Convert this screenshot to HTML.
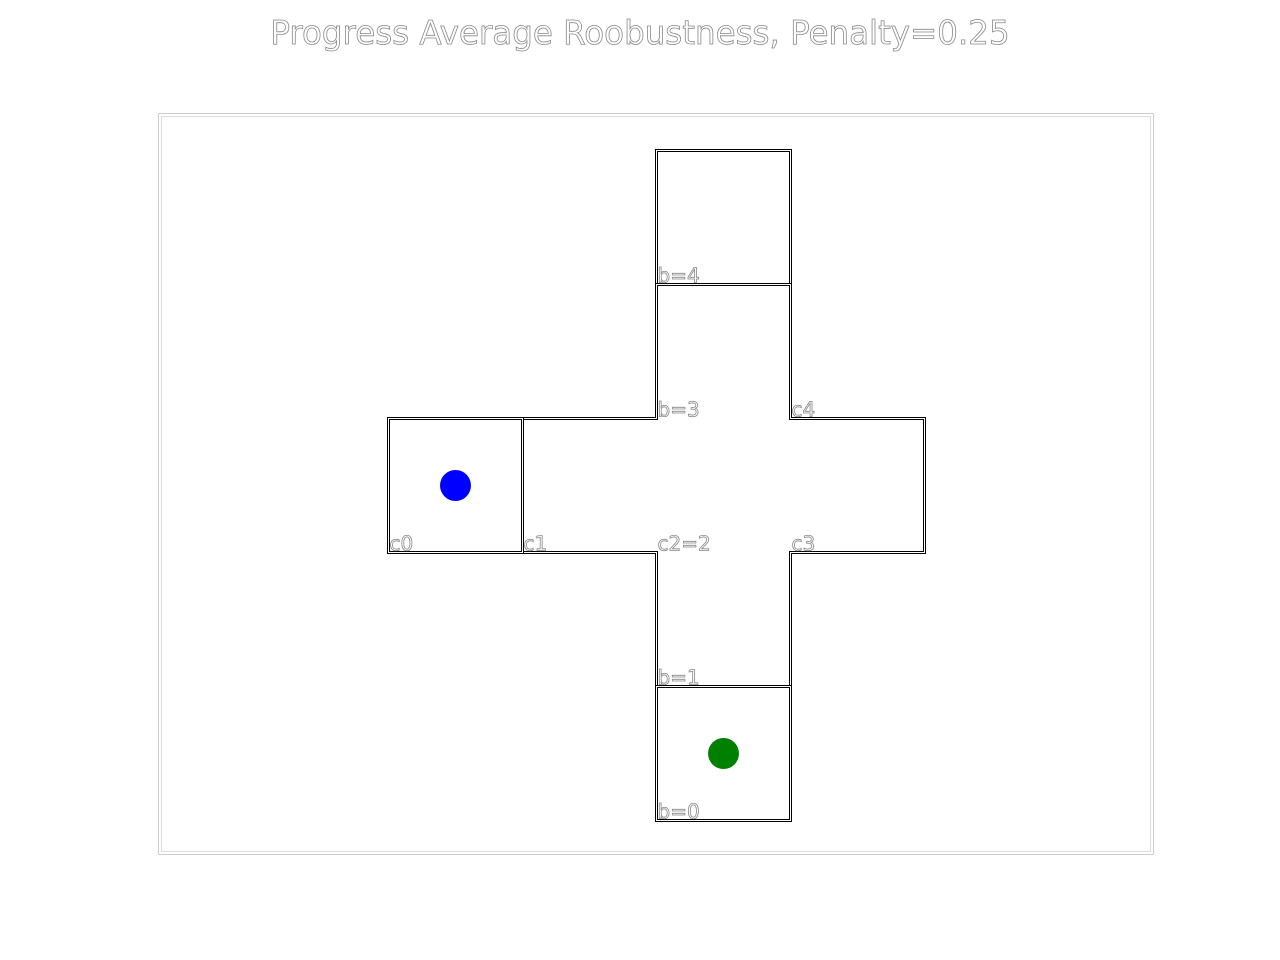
<!DOCTYPE html>
<html><head><meta charset="utf-8"><style>
html,body{margin:0;padding:0;background:#fff;}
svg{display:block;}
text{font-family:"DejaVu Sans","Liberation Sans",sans-serif;fill:#fff;stroke:#888;stroke-width:0.8;}
</style></head><body>
<svg id="chart" width="1280" height="960" viewBox="0 0 1280 960">
<text x="640" y="44" text-anchor="middle" font-size="32.5">Progress Average Roobustness, Penalty=0.25</text>
<rect x="158.5" y="113.5" width="995" height="741" fill="none" stroke="#ccc" stroke-width="1"/>
<rect x="161.5" y="116.5" width="989" height="735" fill="none" stroke="#ddd" stroke-width="1"/>
<g id="walls"></g>
<g id="labels"></g>
<g id="points"></g>
</svg>
<script>
// cell polygons in grid units (x to right, y upward)
const shapeNames = ['box-top','cross','box-left','box-bottom'];
const shapes = [
  [[2,4],[3,4],[3,5],[2,5]],
  [[2,1],[3,1],[3,2],[4,2],[4,3],[3,3],[3,4],[2,4],[2,3],[1,3],[1,2],[2,2]],
  [[0,2],[1,2],[1,3],[0,3]],
  [[2,0],[3,0],[3,1],[2,1]]
];
const labelTexts = ['b=0','b=1','c2=2','b=3','b=4','c0','c1','c3','c4'];
const labelX = [2,2,2,2,2,0,1,3,3];
const labelY = [0,1,2,3,4,2,2,2,3];
const pointNames = ['agent','goal'];
const pointX = [0.5,2.5];
const pointY = [2.5,0.5];
const pointColors = ['#0000ff','#008000'];

const unit = 134.0, x0 = 388.5, y0 = 820.5;
const sx = v => x0 + v*unit;
const sy = v => y0 - v*unit;
const NS = 'http://www.w3.org/2000/svg';
const walls = document.getElementById('walls');
shapes.forEach((poly,i)=>{
  const pts = poly.map(p=>sx(p[0])+','+sy(p[1])).join(' ');
  const outer = document.createElementNS(NS,'polygon');
  
  
  outer.setAttribute('points', pts);
  outer.setAttribute('fill','none');
  outer.setAttribute('stroke','#000');
  outer.setAttribute('stroke-width','3');
  walls.appendChild(outer);
  const inner = document.createElementNS(NS,'polygon');
  
  
  inner.setAttribute('points', pts);
  inner.setAttribute('fill','none');
  inner.setAttribute('stroke','#fff');
  inner.setAttribute('stroke-width','1');
  walls.appendChild(inner);
});
const labels = document.getElementById('labels');
labelTexts.forEach((t,i)=>{
  const el = document.createElementNS(NS,'text');
  
  
  el.setAttribute('x', sx(labelX[i])+1);
  el.setAttribute('y', sy(labelY[i])-2);
  el.setAttribute('font-size','20');
  el.textContent = t;
  labels.appendChild(el);
});
const points = document.getElementById('points');
pointX.forEach((v,i)=>{
  const c = document.createElementNS(NS,'circle');
  
  
  c.setAttribute('cx', sx(v));
  c.setAttribute('cy', sy(pointY[i]));
  c.setAttribute('r', 15.5);
  c.setAttribute('fill', pointColors[i]);
  points.appendChild(c);
});
</script>
</body></html>
